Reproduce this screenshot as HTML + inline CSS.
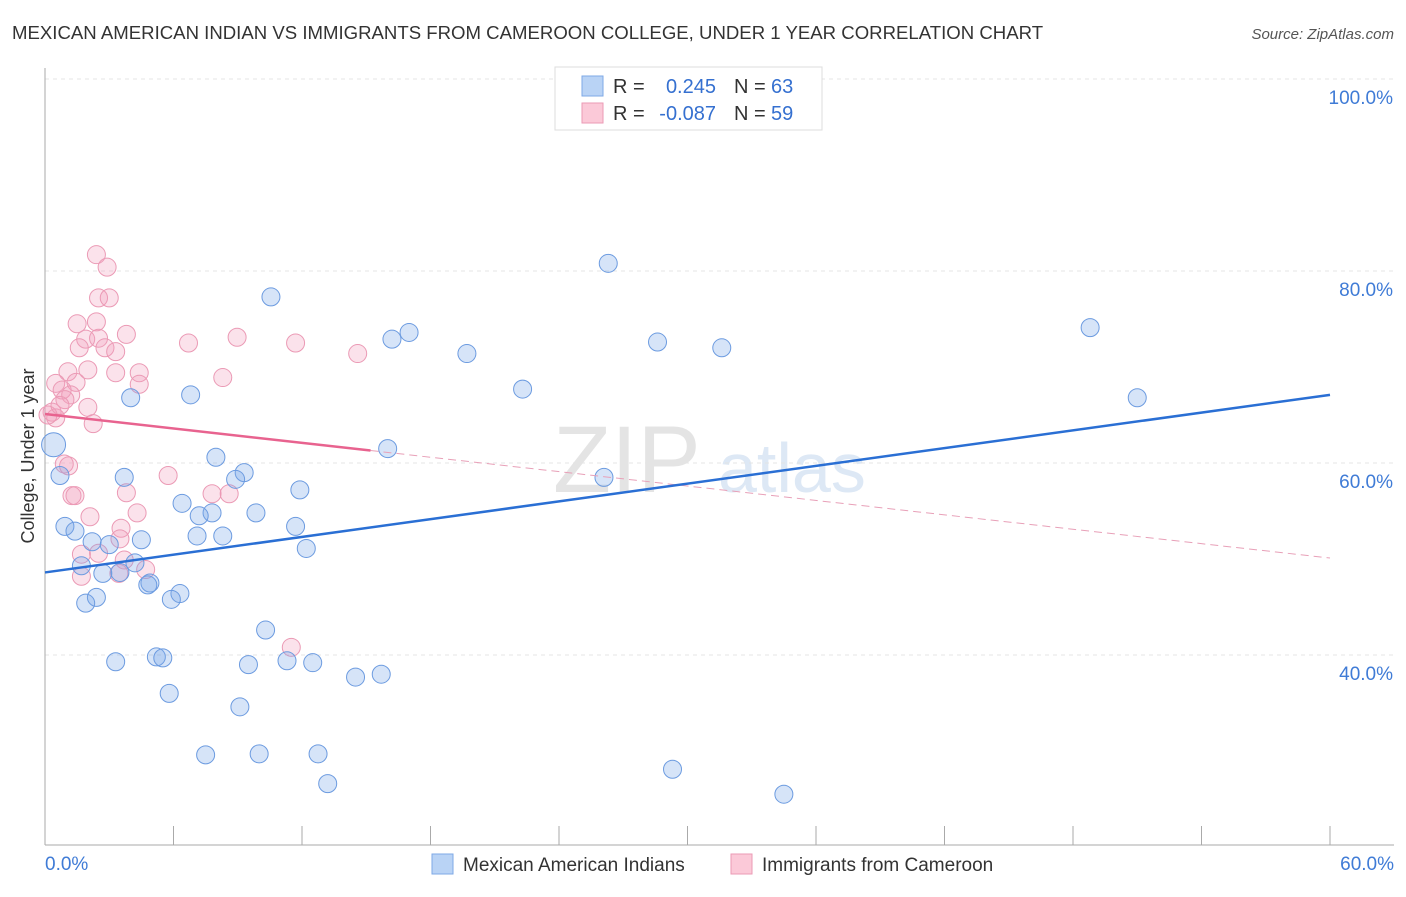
<!DOCTYPE html>
<html><head><meta charset="utf-8">
<style>
body{margin:0;background:#fff;font-family:"Liberation Sans",sans-serif;}
svg text{font-family:"Liberation Sans",sans-serif;}
</style></head>
<body>
<svg id="chart" width="1406" height="892" xmlns="http://www.w3.org/2000/svg">
<text x="12" y="39" font-size="18.6" fill="#333">MEXICAN AMERICAN INDIAN VS IMMIGRANTS FROM CAMEROON COLLEGE, UNDER 1 YEAR CORRELATION CHART</text>
<text x="1394" y="39" font-size="15" fill="#555" font-style="italic" text-anchor="end">Source: ZipAtlas.com</text>
<text x="553" y="492" font-size="95" fill="#e4e4e4" font-family="Liberation Serif">ZIP</text>
<text x="718" y="492" font-size="70" fill="#dde8f5">atlas</text>
<g id="grid"></g>
<g id="axes"></g>
<g id="marks"></g>
<text transform="translate(34,456) rotate(-90)" font-size="18" fill="#333" text-anchor="middle">College, Under 1 year</text>
<g>
<rect x="555" y="67" width="267" height="63" fill="#fff" stroke="#ddd"/>
<rect x="582" y="76" width="21" height="20" fill="#b9d3f5" stroke="#7ea8e6"/>
<rect x="582" y="103" width="21" height="20" fill="#fbc9d8" stroke="#eb9ab5"/>
<text x="613" y="93" font-size="20" fill="#333">R = </text>
<text x="716" y="93" font-size="20" fill="#3570d0" text-anchor="end">0.245</text>
<text x="734" y="93" font-size="20" fill="#333">N = </text>
<text x="771" y="93" font-size="20" fill="#3570d0">63</text>
<text x="613" y="120" font-size="20" fill="#333">R = </text>
<text x="716" y="120" font-size="20" fill="#3570d0" text-anchor="end">-0.087</text>
<text x="734" y="120" font-size="20" fill="#333">N = </text>
<text x="771" y="120" font-size="20" fill="#3570d0">59</text>
</g>
<g>
<rect x="432" y="854" width="21" height="20" fill="#b9d3f5" stroke="#7ea8e6"/>
<text x="463" y="871" font-size="19" fill="#333">Mexican American Indians</text>
<rect x="731" y="854" width="21" height="20" fill="#fbc9d8" stroke="#eb9ab5"/>
<text x="762" y="871" font-size="19" fill="#333">Immigrants from Cameroon</text>
</g>
</svg>
<script>
const yTicks=[40,60,80,100];
const yTickLabels=["40.0%","60.0%","80.0%","100.0%"];
const xTickLabels=["0.0%","60.0%"];
const blueX=[26.3,10.55,48.8,17.0,16.2,28.6,31.6,19.7,22.3,51.0,4.0,6.8,16.0,0.4,0.7,7.98,9.3,8.9,3.7,26.1,11.9,6.4,7.8,7.2,9.85,11.7,0.93,1.4,7.1,8.3,4.5,2.2,3.0,12.2,4.2,1.7,2.7,3.5,4.9,4.8,6.3,5.9,2.4,1.9,10.3,3.3,5.2,5.5,9.5,11.3,12.5,15.7,14.5,5.8,9.1,7.5,10.0,12.75,29.3,13.2,34.5];
const blueY=[80.8,77.3,74.1,73.6,72.9,72.6,72.0,71.4,67.7,66.8,66.8,67.1,61.5,61.9,58.7,60.6,59.0,58.3,58.5,58.5,57.2,55.8,54.8,54.5,54.8,53.4,53.4,52.9,52.4,52.4,52.0,51.8,51.5,51.1,49.6,49.3,48.5,48.6,47.5,47.3,46.4,45.8,46.0,45.4,42.6,39.3,39.8,39.7,39.0,39.4,39.2,38.0,37.7,36.0,34.6,29.6,29.7,29.7,28.1,26.6,25.5];
const pinkX=[2.4,2.9,2.5,3.0,1.5,2.4,3.8,8.97,1.9,2.5,6.7,11.7,14.6,1.6,2.8,3.3,2.0,3.3,4.4,8.3,4.4,1.07,1.45,0.5,0.8,1.2,0.93,2.0,2.25,0.33,0.5,0.14,0.7,0.9,1.1,5.75,1.26,1.4,3.8,7.8,8.6,4.3,2.1,3.55,3.5,1.7,2.5,3.7,4.7,1.7,3.45,11.5];
const pinkY=[81.7,80.4,77.2,77.2,74.5,74.7,73.4,73.1,72.9,73.0,72.5,72.5,71.4,72.0,72.0,71.6,69.7,69.4,69.4,68.9,68.2,69.5,68.4,68.3,67.6,67.1,66.6,65.8,64.1,65.3,64.7,65.0,66.0,59.9,59.7,58.7,56.6,56.6,56.9,56.8,56.8,54.8,54.4,53.2,52.1,50.5,50.6,49.9,48.9,48.2,48.5,40.8];
const blueTrend=[48.6,67.1];
const pinkTrend=[65.1,50.1];
const pinkSolidEnd=15.2;

const NS="http://www.w3.org/2000/svg";
const X=v=>45+v/60*1285;
const Y=v=>79+(100-v)/20*192;
function mk(tag,attrs,parent){const e=document.createElementNS(NS,tag);for(const k in attrs)e.setAttribute(k,attrs[k]);document.getElementById(parent).appendChild(e);return e;}

yTicks.forEach((t,i)=>{
  const g=mk('line',{x1:45,x2:1394,y1:Y(t),y2:Y(t),stroke:'#e4e4e4','stroke-dasharray':'4,4'},'grid');
  
  
  const tx=mk('text',{x:1393,y:Y(t)+25,'font-size':19,fill:'#3f7bd6','text-anchor':'end'},'axes');
  tx.textContent=yTickLabels[i];
  
  
});
const ax=mk('line',{x1:45,x2:45,y1:68,y2:845,stroke:'#aaa'},'axes');


const bx=mk('line',{x1:45,x2:1394,y1:845,y2:845,stroke:'#aaa'},'axes');


for(let i=0;i<=10;i++){
  const t=mk('line',{x1:X(i*6),x2:X(i*6),y1:826,y2:845,stroke:'#aaa'},'axes');
  
  
}
[[0,'start',45],[60,'end',1394]].forEach((a,i)=>{
  const tx=mk('text',{x:a[2],y:870,'font-size':19,fill:'#3f7bd6','text-anchor':a[1]},'axes');
  tx.textContent=xTickLabels[i];
  
  
});

pinkX.forEach((v,i)=>{
  const c=mk('circle',{cx:X(v),cy:Y(pinkY[i]),r:9,fill:'rgba(243,160,188,0.3)',stroke:'#eb9ab5','stroke-width':1},'marks');
  
  
});
blueX.forEach((v,i)=>{
  const r=(i===13)?12:9;
  const c=mk('circle',{cx:X(v),cy:Y(blueY[i]),r:r,fill:'rgba(120,165,232,0.3)',stroke:'#6c9be0','stroke-width':1},'marks');
  
  
});
const py=x=>pinkTrend[0]+(pinkTrend[1]-pinkTrend[0])*x/60;
const l1=mk('line',{x1:X(0),y1:Y(py(0)),x2:X(pinkSolidEnd),y2:Y(py(pinkSolidEnd)),stroke:'#e8638f','stroke-width':2.5},'marks');


const l2=mk('line',{x1:X(pinkSolidEnd),y1:Y(py(pinkSolidEnd)),x2:X(60),y2:Y(py(60)),stroke:'#e8a0b8','stroke-width':1,'stroke-dasharray':'8,5'},'marks');


const l3=mk('line',{x1:X(0),y1:Y(blueTrend[0]),x2:X(60),y2:Y(blueTrend[1]),stroke:'#2a6fd4','stroke-width':2.5},'marks');


</script>
</body></html>
